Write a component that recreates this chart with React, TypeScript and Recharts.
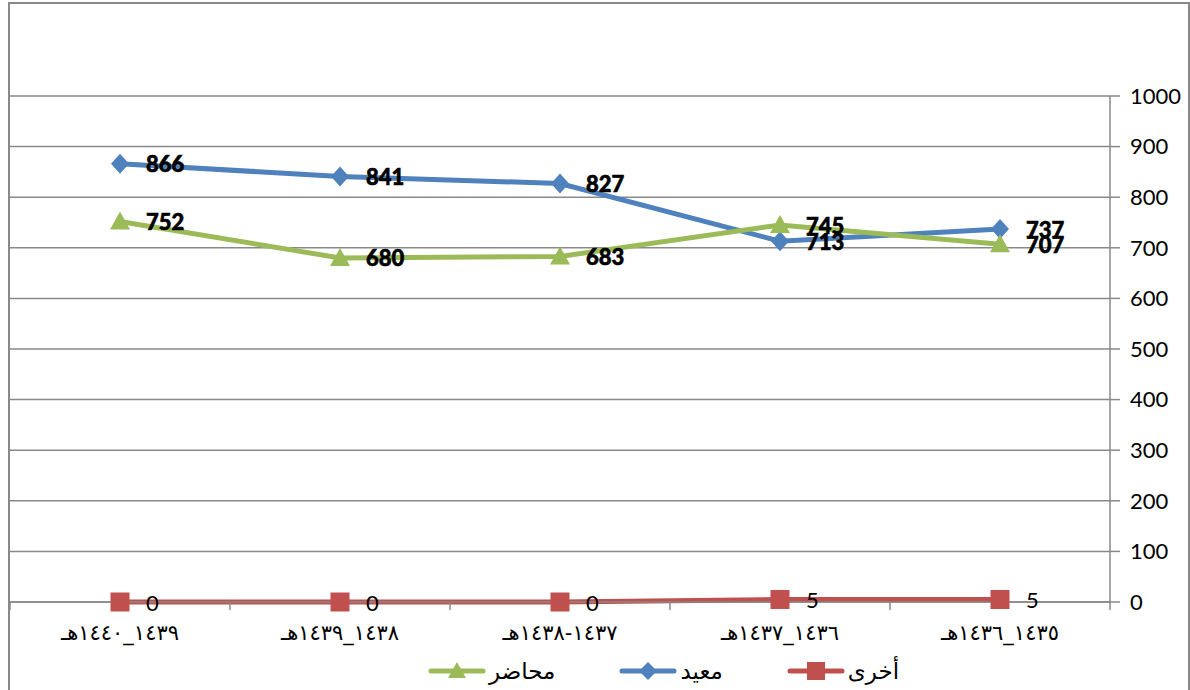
import React from "react";
import {
  LineChart,
  Line,
  XAxis,
  YAxis,
  CartesianGrid,
  LabelList,
  Legend,
} from "recharts";

const periods = [
  "١٤٣٩_١٤٤٠هـ",
  "١٤٣٨_١٤٣٩هـ",
  "١٤٣٧-١٤٣٨هـ",
  "١٤٣٦_١٤٣٧هـ",
  "١٤٣٥_١٤٣٦هـ",
];
const moeed = [866, 841, 827, 713, 737];
const muhadir = [752, 680, 683, 745, 707];
const other = [0, 0, 0, 5, 5];
const yTicks = [0, 100, 200, 300, 400, 500, 600, 700, 800, 900, 1000];

const BLUE = "#4F81BD";
const GREEN = "#9BBB59";
const RED = "#C0504D";
const GRID = "#898989";
const NUM_FONT = "Lato, 'Open Sans', sans-serif";
const AR_FONT = "'DejaVu Sans', sans-serif";

const data = periods.map((period, i) => ({
  period,
  moeed: moeed[i],
  muhadir: muhadir[i],
  other: other[i],
}));

const BAND = 220;

const XTick = (props: any) => {
  const { x, y, payload, index } = props;
  return (
    <g>
      <line x1={x - BAND / 2} y1={y} x2={x - BAND / 2} y2={y + 8} stroke={GRID} strokeWidth={1.5} />
      {index === periods.length - 1 && (
        <line x1={x + BAND / 2} y1={y} x2={x + BAND / 2} y2={y + 8} stroke={GRID} strokeWidth={1.5} />
      )}
      <text
        x={x}
        y={y + 31}
        textAnchor="middle"
        dominantBaseline="central"
        fontFamily={AR_FONT}
        fontSize={21}
        fill="#000"
      >
        {payload.value}
      </text>
    </g>
  );
};

const Diamond = (props: any) => {
  const { cx, cy, index } = props;
  return (
    <polygon
      key={`d-${index}`}
      points={`${cx},${cy - 10} ${cx + 9},${cy} ${cx},${cy + 10} ${cx - 9},${cy}`}
      fill={BLUE}
    />
  );
};

const Triangle = (props: any) => {
  const { cx, cy, index } = props;
  return (
    <polygon
      key={`t-${index}`}
      points={`${cx},${cy - 10} ${cx + 10},${cy + 8} ${cx - 10},${cy + 8}`}
      fill={GREEN}
    />
  );
};

const Square = (props: any) => {
  const { cx, cy, index } = props;
  return <rect key={`s-${index}`} x={cx - 9.5} y={cy - 9.5} width={19} height={19} fill={RED} />;
};

const makeLabel = (bold: boolean) => (props: any) => {
  const { x, y, value } = props;
  return (
    <text
      x={x + 26}
      y={y}
      dominantBaseline="central"
      fontFamily={NUM_FONT}
      fontWeight={bold ? 900 : 400}
      fontSize={22}
      fill="#000"
      stroke={bold ? "#000" : "none"}
      strokeWidth={bold ? 0.6 : 0}
    >
      {value}
    </text>
  );
};

const legendItems = [
  { name: "محاضر", color: GREEN, shape: "triangle" },
  { name: "معيد", color: BLUE, shape: "diamond" },
  { name: "أخرى", color: RED, shape: "square" },
];

const LegendIcon = ({ color, shape }: { color: string; shape: string }) => (
  <svg width={58} height={20}>
    <line x1={3} y1={10} x2={55} y2={10} stroke={color} strokeWidth={5} strokeLinecap="round" />
    {shape === "triangle" && <polygon points="29,1 38,17 20,17" fill={color} />}
    {shape === "diamond" && <polygon points="29,1 38,10 29,19 20,10" fill={color} />}
    {shape === "square" && <rect x={20} y={1} width={18} height={18} fill={color} />}
  </svg>
);

const CustomLegend = () => (
  <div style={{ display: "flex", alignItems: "center", marginLeft: 418 }}>
    {legendItems.map((item, i) => (
      <div key={i} style={{ display: "flex", alignItems: "center", marginRight: i < 2 ? 64 : 0 }}>
        <LegendIcon color={item.color} shape={item.shape} />
        <span style={{ fontFamily: AR_FONT, fontSize: 23, color: "#000", marginLeft: 3 }}>
          {item.name}
        </span>
      </div>
    ))}
  </div>
);

export default function App() {
  return (
    <div
      style={{
        position: "absolute",
        left: 8,
        top: 2,
        width: 1178,
        height: 700,
        border: `2px solid ${GRID}`,
        background: "#fff",
      }}
    >
      <LineChart
        width={1178}
        height={686}
        data={data}
        margin={{ top: 92, right: 0, bottom: 0, left: 0 }}
      >
        <CartesianGrid vertical={false} stroke={GRID} strokeWidth={1.5} />
        <XAxis
          dataKey="period"
          scale="band"
          interval={0}
          height={56}
          tickLine={false}
          tickSize={0}
          tickMargin={0}
          axisLine={{ stroke: GRID, strokeWidth: 1.5 }}
          tick={<XTick />}
        />
        <YAxis
          orientation="right"
          width={78}
          domain={[0, 1000]}
          ticks={yTicks}
          interval={0}
          tickSize={10}
          tickMargin={10}
          axisLine={{ stroke: GRID, strokeWidth: 1.5 }}
          tickLine={{ stroke: GRID, strokeWidth: 1.5 }}
          tick={{ fill: "#000", fontSize: 22, fontFamily: NUM_FONT }}
        />
        <Legend verticalAlign="bottom" height={32} content={<CustomLegend />} />
        <Line
          dataKey="other"
          stroke={RED}
          strokeWidth={5}
          dot={<Square />}
          isAnimationActive={false}
        >
          <LabelList dataKey="other" content={makeLabel(false)} />
        </Line>
        <Line
          dataKey="moeed"
          stroke={BLUE}
          strokeWidth={5}
          dot={<Diamond />}
          isAnimationActive={false}
        >
          <LabelList dataKey="moeed" content={makeLabel(true)} />
        </Line>
        <Line
          dataKey="muhadir"
          stroke={GREEN}
          strokeWidth={5}
          dot={<Triangle />}
          isAnimationActive={false}
        >
          <LabelList dataKey="muhadir" content={makeLabel(true)} />
        </Line>
      </LineChart>
    </div>
  );
}
